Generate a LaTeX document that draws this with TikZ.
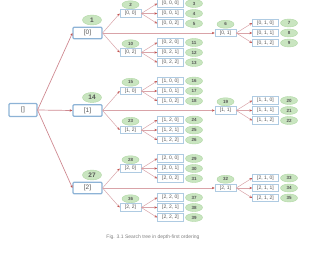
\documentclass[tikz,border=0pt]{standalone}
\usepackage{fontspec}
\setmainfont{Liberation Sans}
\usetikzlibrary{arrows.meta, positioning, shapes.geometric}
\definecolor{boxblue}{HTML}{8DB3D6}
\definecolor{leafblue}{HTML}{AFCBE2}
\definecolor{badgegreen}{HTML}{C9E5C0}
\definecolor{badgeedge}{HTML}{B0D8A4}
\definecolor{linkred}{HTML}{D9A3A8}
\definecolor{bigred}{HTML}{CF8A92}
\definecolor{tipred}{HTML}{C0504D}
\definecolor{textgray}{HTML}{555555}

\begin{document}
\begin{tikzpicture}[x=1pt, y=-1pt,
    bigbox/.style={draw=boxblue, line width=1.1pt, rounded corners=1pt, fill=white, minimum width=29pt, minimum height=11.5pt, inner sep=0pt, text=textgray, font=\fontsize{6.5}{7}\selectfont},
    midbox/.style={draw=leafblue, line width=0.6pt, fill=white, minimum width=21pt, minimum height=7.5pt, inner sep=0pt, text=textgray, font=\fontsize{5}{6}\selectfont},
    leafbox/.style={midbox, minimum width=26pt},
    bigbadge/.style={ellipse, draw=badgeedge, fill=badgegreen, minimum width=19pt, minimum height=10pt, inner sep=0pt, text=textgray, font=\bfseries\fontsize{6.5}{7}\selectfont},
    badge/.style={bigbadge, minimum width=17pt, minimum height=8pt, font=\bfseries\fontsize{4.5}{5}\selectfont},
    link/.style={draw=linkred, line width=0.5pt, -{Stealth[length=2.8pt, width=2.4pt, color=tipred]}},
    biglink/.style={link, draw=bigred, line width=0.7pt}]
    \useasboundingbox (0,0) rectangle (326,259);

    \node[bigbox, minimum width=28pt, minimum height=13pt] (root) at (23,110) {[]};

    \foreach \i/\gy in {0/33, 1/110.5, 2/188} {
        \pgfmathtruncatemacro\base{1+13*\i}
        \node[bigbox] (n\i) at (87.5,\gy) {[\i]};
        \node[bigbadge, above=1.5pt of n\i, xshift=4.5pt] (c\i) {\base};
        \draw[biglink] (root.east) -- (n\i.west);
        \foreach \j in {0,1,2} {
            \pgfmathsetmacro\cx{130.5+95*(\j==1)}
            \pgfmathsetmacro\cy{\gy+(\j-1)*19.5}
            \pgfmathtruncatemacro\mid{\base+1+4*\j}
            \node[midbox] (n\i\j) at (\cx,\cy) {[\i, \j]};
            \node[badge, above=0.5pt of n\i\j] (c\i\j) {\mid};
            \draw[link] (n\i.east) -- (n\i\j.west);
            \foreach \k in {0,1,2} {
                \pgfmathtruncatemacro\leaf{\mid+1+\k}
                \node[leafbox] (n\i\j\k) at (\cx+40,\cy+10*\k-10) {[\i, \j, \k]};
                \node[badge, right=1.5pt of n\i\j\k] (c\i\j\k) {\leaf};
                \draw[link] (n\i\j.east) -- (n\i\j\k.west);
            }
        }
    }

    % caption under the tree
    \node[text=gray, font=\fontsize{5}{6}\selectfont] (caption) at (153,237) {Fig. 3.1 Search tree in depth-first ordering};
\end{tikzpicture}
\end{document}
